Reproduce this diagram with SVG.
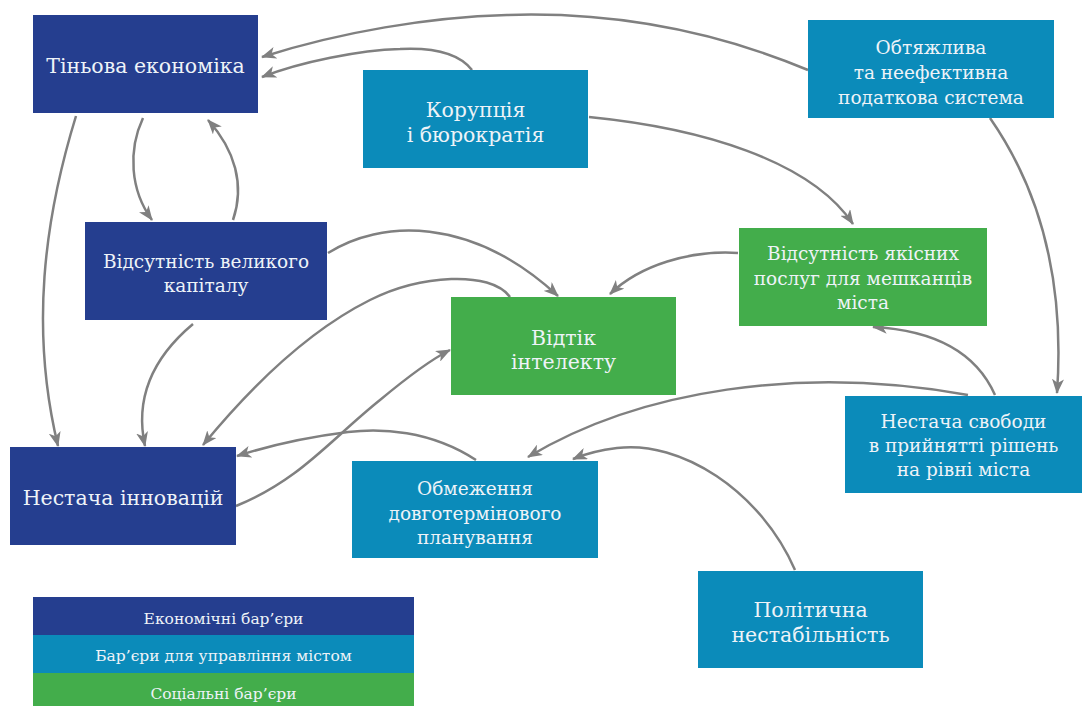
<svg xmlns="http://www.w3.org/2000/svg" width="1082" height="706" viewBox="0 0 1082 706">
  <style>
    .eco { fill: #253e8f; }
    .gov { fill: #0b8bba; }
    .soc { fill: #43ad4b; }
    .lbl { font-family: "DejaVu Serif", "Liberation Serif", serif; font-size: 18.5px; fill: #eef3f8; text-anchor: middle; }
    .big { font-size: 20.5px; }
    .leg { font-family: "DejaVu Serif", "Liberation Serif", serif; font-size: 15.5px; fill: #eef3f8; text-anchor: middle; }
    .link { fill: none; stroke: #808080; stroke-width: 2.5; }
  </style>
  <defs>
    <marker id="arrow" markerUnits="userSpaceOnUse" markerWidth="16" markerHeight="12" refX="14" refY="6" orient="auto">
      <path d="M0,0 L15,6 L0,12 L4,6 Z" fill="#808080"/>
    </marker>
  </defs>
  <rect width="1082" height="706" fill="#ffffff"/>

  <g id="connectors">
    <path class="link" marker-end="url(#arrow)" d="M808,70 C700,25 600,12 507,15 C430,17 340,32 262,57"/>
    <path class="link" marker-end="url(#arrow)" d="M472,70 C455,48 420,48 400,49 C360,50 300,62 262,77"/>
    <path class="link" marker-end="url(#arrow)" d="M589,117 C700,128 810,160 853,224"/>
    <path class="link" marker-end="url(#arrow)" d="M990,118 C1040,190 1065,280 1057,393"/>
    <path class="link" marker-end="url(#arrow)" d="M76,116 C44,220 30,330 58,446"/>
    <path class="link" marker-end="url(#arrow)" d="M143,118 C128,150 130,190 152,220"/>
    <path class="link" marker-end="url(#arrow)" d="M233,220 C245,185 235,150 208,120"/>
    <path class="link" marker-end="url(#arrow)" d="M328,253 C380,220 470,215 558,296"/>
    <path class="link" marker-end="url(#arrow)" d="M510,297 C490,270 420,275 370,300 C300,335 240,400 203,445"/>
    <path class="link" marker-end="url(#arrow)" d="M193,324 C150,360 135,400 145,446"/>
    <path class="link" marker-end="url(#arrow)" d="M236,506 C300,480 330,440 380,400 C410,375 430,360 450,350"/>
    <path class="link" marker-end="url(#arrow)" d="M476,460 C430,430 380,428 348,432 C300,438 265,447 237,456"/>
    <path class="link" marker-end="url(#arrow)" d="M738,253 C690,250 640,265 610,294"/>
    <path class="link" marker-end="url(#arrow)" d="M995,395 C975,350 930,330 873,327"/>
    <path class="link" marker-end="url(#arrow)" d="M968,395 C800,365 640,390 528,457"/>
    <path class="link" marker-end="url(#arrow)" d="M795,570 C760,490 680,440 617,448 C600,450 585,454 573,459"/>
  </g>

  <g id="shadow-economy">
    <rect class="eco" x="33" y="15" width="225" height="98"/>
    <text class="lbl big" x="145.5" y="73">Тіньова економіка</text>
  </g>
  <g id="corruption">
    <rect class="gov" x="363" y="70" width="225" height="98"/>
    <text class="lbl big" x="475.5" y="117">Корупція</text>
    <text class="lbl big" x="475.5" y="142">і бюрократія</text>
  </g>
  <g id="tax-system">
    <rect class="gov" x="808" y="20" width="246" height="98"/>
    <text class="lbl" x="931" y="54">Обтяжлива</text>
    <text class="lbl" x="931" y="79">та неефективна</text>
    <text class="lbl" x="931" y="104">податкова система</text>
  </g>
  <g id="no-big-capital">
    <rect class="eco" x="85" y="222" width="242" height="98"/>
    <text class="lbl" x="206" y="268">Відсутність великого</text>
    <text class="lbl" x="206" y="292">капіталу</text>
  </g>
  <g id="brain-drain">
    <rect class="soc" x="451" y="297" width="225" height="98"/>
    <text class="lbl big" x="563.5" y="345">Відтік</text>
    <text class="lbl big" x="563.5" y="369">інтелекту</text>
  </g>
  <g id="no-quality-services">
    <rect class="soc" x="739" y="228" width="248" height="98"/>
    <text class="lbl" x="863" y="260">Відсутність якісних</text>
    <text class="lbl" x="863" y="285">послуг для мешканців</text>
    <text class="lbl" x="863" y="309">міста</text>
  </g>
  <g id="no-city-freedom">
    <rect class="gov" x="845" y="396" width="237" height="97"/>
    <text class="lbl" x="963.5" y="428">Нестача свободи</text>
    <text class="lbl" x="963.5" y="452">в прийнятті рішень</text>
    <text class="lbl" x="963.5" y="476">на рівні міста</text>
  </g>
  <g id="no-innovation">
    <rect class="eco" x="10" y="447" width="226" height="98"/>
    <text class="lbl big" x="123" y="505">Нестача інновацій</text>
  </g>
  <g id="limited-planning">
    <rect class="gov" x="352" y="461" width="246" height="97"/>
    <text class="lbl" x="475" y="495">Обмеження</text>
    <text class="lbl" x="475" y="520">довготермінового</text>
    <text class="lbl" x="475" y="544">планування</text>
  </g>
  <g id="political-instability">
    <rect class="gov" x="698" y="571" width="225" height="97"/>
    <text class="lbl big" x="810.5" y="617">Політична</text>
    <text class="lbl big" x="810.5" y="642">нестабільність</text>
  </g>

  <g id="legend">
    <rect class="eco" x="33" y="597" width="381" height="38"/>
    <text class="leg" x="223.5" y="624">Економічні бар’єри</text>
    <rect class="gov" x="33" y="635" width="381" height="38"/>
    <text class="leg" x="223.5" y="661">Бар’єри для управління містом</text>
    <rect class="soc" x="33" y="673" width="381" height="33"/>
    <text class="leg" x="223.5" y="699">Соціальні бар’єри</text>
  </g>
</svg>
